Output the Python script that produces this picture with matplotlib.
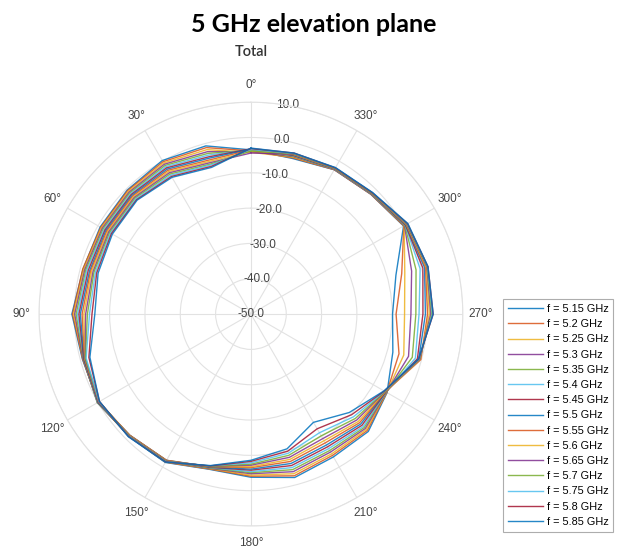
"""
5 GHz elevation plane - polar pattern per frequency
"""

import numpy as np
import matplotlib
matplotlib.use("Agg")
import matplotlib.pyplot as plt

# Angles (deg) of the measured points
angles_deg = [0, 15, 30, 45, 60, 75, 90, 105, 120, 135, 150, 165,
              180, 195, 210, 225, 240, 255, 270, 285, 300, 315, 330, 345]

freq_labels = ["f = 5.15 GHz", "f = 5.2 GHz", "f = 5.25 GHz", "f = 5.3 GHz",
               "f = 5.35 GHz", "f = 5.4 GHz", "f = 5.45 GHz", "f = 5.5 GHz",
               "f = 5.55 GHz", "f = 5.6 GHz", "f = 5.65 GHz", "f = 5.7 GHz",
               "f = 5.75 GHz", "f = 5.8 GHz", "f = 5.85 GHz"]

# Gain (dB), one list per frequency
f515 = [-3.5, -0.7, 0.2, -0.4, -0.7, -0.8, 0.7, -0.6, -0.1, -1.0, -1.5, -4.5,
        -3.8, -2.1, -3.3, -3.0, -5.5, -8.4, -9.9, -7.5, -0.1, -2.0, -2.8, -4.4]
f520 = [-3.8, -1.2, -0.2, -0.6, -0.9, -0.7, 0.5, -0.7, 0.0, -1.1, -1.6, -4.6,
        -4.1, -2.6, -3.8, -3.4, -5.6, -6.6, -8.9, -5.8, 0.0, -2.0, -2.8, -4.2]
f525 = [-4.2, -1.8, -0.6, -0.9, -1.1, -1.0, 0.2, -0.8, 0.1, -1.2, -1.7, -4.7,
        -4.4, -3.2, -4.3, -3.8, -5.6, -5.2, -6.5, -4.9, 0.1, -1.9, -2.7, -4.0]
f530 = [-4.0, -2.4, -1.0, -1.2, -1.4, -1.3, -0.1, -0.8, 0.2, -1.2, -1.8, -4.8,
        -4.8, -3.8, -4.9, -4.2, -5.7, -3.8, -4.7, -2.9, 0.2, -1.9, -2.7, -3.8]
f535 = [-3.6, -2.9, -1.4, -1.5, -1.7, -1.6, -0.5, -0.9, 0.2, -1.3, -1.9, -4.9,
        -5.1, -4.4, -5.4, -4.6, -5.8, -2.7, -3.3, -1.6, 0.3, -1.8, -2.6, -3.7]
f540 = [-3.4, -3.4, -1.8, -1.8, -2.0, -1.9, -0.9, -1.0, 0.1, -1.4, -2.0, -5.0,
        -5.4, -5.0, -6.0, -5.0, -5.8, -1.8, -2.4, -0.4, 0.4, -1.8, -2.6, -3.6]
f545 = [-3.2, -3.9, -2.2, -2.1, -2.3, -2.3, -1.3, -1.0, 0.0, -1.4, -2.1, -5.1,
        -5.8, -5.6, -6.6, -5.5, -5.9, -1.2, -1.3, 0.4, 0.5, -1.7, -2.5, -3.5]
f550 = [-3.3, -4.3, -2.6, -2.4, -2.6, -2.7, -1.7, -1.1, -0.1, -1.5, -2.2, -5.2,
        -6.1, -6.2, -7.2, -6.0, -6.0, -0.8, -0.6, 0.9, 0.6, -1.7, -2.5, -3.4]
f555 = [-3.5, -4.8, -3.0, -2.7, -2.9, -3.0, -2.2, -1.2, -0.2, -1.5, -2.2, -5.3,
        -6.5, -6.8, -7.9, -6.5, -6.0, -0.2, 0.0, 1.2, 0.7, -1.6, -2.4, -3.3]
f560 = [-3.9, -5.2, -3.4, -3.0, -3.2, -3.3, -2.7, -1.3, -0.3, -1.4, -2.1, -5.3,
        -6.8, -7.4, -8.6, -7.0, -6.1, -0.4, 0.5, 1.4, 0.8, -1.6, -2.4, -3.2]
f565 = [-4.4, -5.6, -3.8, -3.3, -3.5, -3.7, -3.2, -1.4, -0.3, -1.3, -2.0, -5.4,
        -7.2, -8.0, -9.3, -7.6, -6.2, -0.5, 0.9, 1.6, 0.9, -1.5, -2.3, -3.1]
f570 = [-3.8, -6.0, -4.2, -3.6, -3.8, -4.0, -3.7, -1.5, -0.4, -1.2, -1.9, -5.4,
        -7.5, -8.6, -10.2, -8.2, -6.2, -0.6, 1.2, 1.7, 1.0, -1.5, -2.3, -3.0]
f575 = [-3.4, -6.3, -4.6, -3.9, -4.1, -4.4, -4.3, -1.7, -0.4, -1.1, -1.8, -5.5,
        -7.9, -9.2, -11.2, -8.9, -6.3, -0.7, 1.4, 1.8, 1.1, -1.4, -2.2, -2.9]
f580 = [-3.1, -6.7, -5.0, -4.2, -4.4, -4.8, -5.0, -2.5, -0.5, -1.0, -1.7, -5.5,
        -8.3, -9.8, -12.5, -9.7, -6.4, -0.8, 1.6, 1.9, 1.2, -1.4, -2.2, -2.8]
f585 = [-3.0, -7.0, -5.3, -4.4, -4.7, -5.2, -5.8, -2.8, -0.5, -0.9, -1.6, -5.6,
        -8.6, -10.5, -14.6, -10.6, -6.5, -0.9, 1.6, 1.9, 1.3, -1.3, -2.1, -2.8]

series = [f515, f520, f525, f530, f535, f540, f545, f550,
          f555, f560, f565, f570, f575, f580, f585]

r_ticks = [-50, -40, -30, -20, -10, 0, 10]
theta_ticks = [0, 30, 60, 90, 120, 150, 180, 210, 240, 270, 300, 330]

# MATLAB-like colour order
colors = ["#0072BD", "#D95319", "#EDB120", "#7E2F8E",
          "#77AC30", "#4DBEEE", "#A2142F"]

plt.rcParams["font.family"] = ["Liberation Sans", "DejaVu Sans"]

fig = plt.figure(figsize=(6.27, 5.49), dpi=100)
ax = fig.add_axes([0.0622, 0.0419, 0.676, 0.772], projection="polar")
ax.set_theta_zero_location("N")
ax.set_theta_direction(1)

theta = np.deg2rad(angles_deg + [angles_deg[0]])
for i, vals in enumerate(series):
    ax.plot(theta, vals + [vals[0]], color=colors[i % 7], lw=1.0,
            alpha=0.85, label=freq_labels[i])

ax.set_ylim(-50, 10)
ax.set_yticks(r_ticks)
ax.set_yticklabels(["%.1f" % v for v in r_ticks])
ax.set_rlabel_position(350)
ax.set_xticks(np.deg2rad(theta_ticks))
ax.set_xticklabels(["%d°" % t for t in theta_ticks])
ax.tick_params(axis="x", colors="#444444", labelsize=8.5, pad=2)
ax.tick_params(axis="y", colors="#444444", labelsize=8.5)
for lbl in ax.get_yticklabels():
    lbl.set_horizontalalignment("center")
    lbl.set_verticalalignment("center")
ax.grid(True, color="#e2e2e2", lw=0.8)
ax.spines["polar"].set_color("#e2e2e2")

fig.text(251 / 627, 1 - 52 / 549, "Total", fontsize=10.5, color="#333333",
         ha="center", va="center", family=["Lato", "DejaVu Sans"],
         fontweight="semibold")
fig.text(0.5, 1 - 25 / 549, "5 GHz elevation plane", fontsize=18,
         fontweight="bold", ha="center", va="center",
         family=["Lato", "DejaVu Sans"])

leg = fig.legend(loc="upper left", bbox_to_anchor=(0.802, 0.455),
                 fontsize=7.8, frameon=True, fancybox=False,
                 handlelength=3.3, handletextpad=0.3, labelspacing=0.48,
                 borderpad=0.45, borderaxespad=0)
leg.get_frame().set_edgecolor("#999999")
leg.get_frame().set_linewidth(0.8)

plt.savefig("out.png", dpi=100)
plt.close()
